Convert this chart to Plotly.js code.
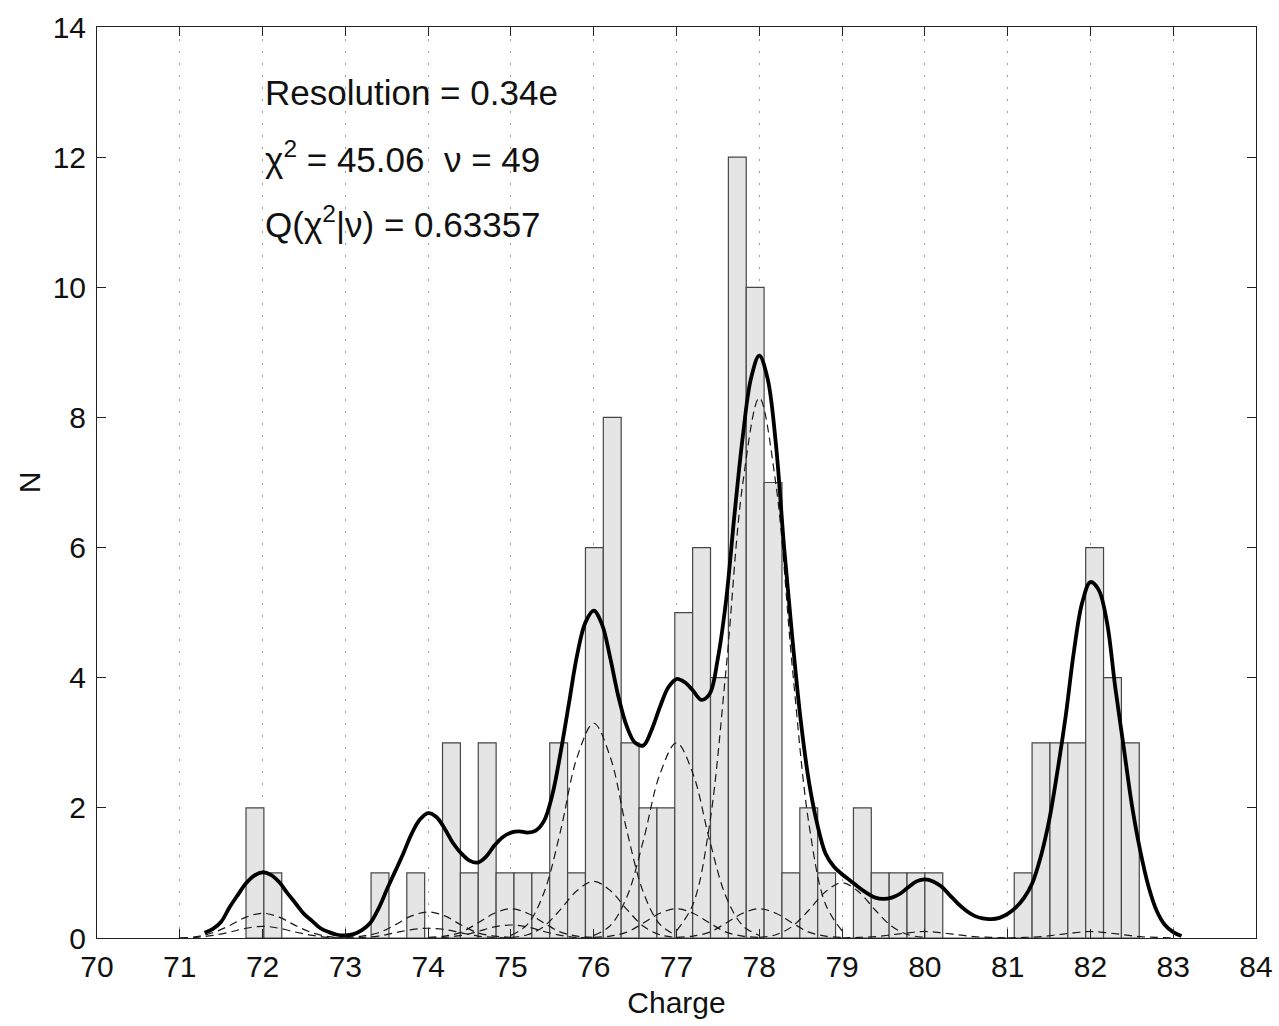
<!DOCTYPE html>
<html>
<head>
<meta charset="utf-8">
<script src="https://cdn.plot.ly/plotly-3.0.1.min.js"></script>
<style>html,body{margin:0;padding:0;background:#fff;}#chart{width:1279px;height:1026px;}</style>
</head>
<body>
<div id="chart"></div>
<script>
// ---- Histogram (50 bins) ----
const binStart = 71.80;
const binWidth = 0.2158;
const counts = [2,1,0,0,0,0,0,1,0,1,
                0,3,1,3,1,1,1,3,1,6,
                8,3,2,2,5,6,4,12,10,7,
                1,2,1,0,2,1,1,1,1,0,
                0,0,0,1,3,3,3,6,4,3];

// ---- Total fit curve ----
const fitX = [71.3,71.4,71.5,71.6,71.7,71.8,71.9,72.0,72.1,72.2,72.3,72.4,72.5,72.6,72.7,72.8,72.9,73.0,
  73.1,73.2,73.3,73.4,73.5,73.6,73.7,73.8,73.9,74.0,74.1,74.2,74.3,74.4,74.5,74.6,74.7,74.8,74.9,75.0,
  75.1,75.2,75.3,75.4,75.5,75.6,75.7,75.8,75.9,76.0,76.1,76.2,76.3,76.4,76.5,76.6,76.7,76.8,76.9,77.0,
  77.1,77.2,77.3,77.4,77.5,77.6,77.7,77.8,77.9,78.0,78.1,78.2,78.3,78.4,78.5,78.6,78.7,78.8,78.9,79.0,
  79.1,79.2,79.3,79.4,79.5,79.6,79.7,79.8,79.9,80.0,80.1,80.2,80.3,80.4,80.5,80.6,80.7,80.8,80.9,81.0,
  81.1,81.2,81.3,81.4,81.5,81.6,81.7,81.8,81.9,82.0,82.1,82.2,82.3,82.4,82.5,82.6,82.7,82.8,82.9,83.0,83.1];
const fitY = [0.08,0.14,0.25,0.47,0.66,0.84,0.96,1.01,0.97,0.86,0.69,0.53,0.37,0.26,0.15,0.09,0.05,0.04,
  0.06,0.12,0.23,0.45,0.74,1.02,1.30,1.60,1.82,1.92,1.86,1.68,1.46,1.30,1.19,1.16,1.25,1.42,1.55,1.62,
  1.64,1.62,1.65,1.80,2.20,2.85,3.60,4.35,4.85,5.03,4.82,4.30,3.70,3.25,3.00,2.96,3.20,3.55,3.85,3.98,
  3.93,3.80,3.66,3.75,4.30,5.20,6.50,7.70,8.60,8.95,8.60,7.60,6.00,4.60,3.35,2.40,1.75,1.30,1.10,0.98,
  0.88,0.78,0.69,0.62,0.60,0.62,0.68,0.78,0.87,0.90,0.87,0.79,0.66,0.53,0.42,0.34,0.30,0.29,0.31,0.37,
  0.47,0.62,0.85,1.25,1.80,2.55,3.40,4.40,5.15,5.47,5.35,4.85,3.85,2.95,2.05,1.35,0.80,0.42,0.20,0.09,0.03];

// ---- Individual fit components (dashed), sampled at centre + offset ----
const compOffsets = [-1.0,-0.8,-0.6,-0.4,-0.2,0,0.2,0.4,0.6,0.8,1.0];
const comp76Main = [0.04,0.21,0.70,1.65,2.78,3.30,2.78,1.65,0.70,0.21,0.04];
const comp77Main = [0.04,0.19,0.63,1.50,2.52,3.00,2.52,1.50,0.63,0.19,0.04];
const comp78Main = [0.11,0.52,1.75,4.15,6.98,8.30,6.98,4.15,1.75,0.52,0.11];
const comp76Minor = [0.01,0.05,0.18,0.44,0.73,0.87,0.73,0.44,0.18,0.05,0.01];
const comp79Minor = [0.01,0.05,0.18,0.43,0.71,0.85,0.71,0.43,0.18,0.05,0.01];
const comp72a = [0.00,0.02,0.08,0.19,0.32,0.38,0.32,0.19,0.08,0.02,0.00];
const comp72b = [0.00,0.01,0.04,0.09,0.15,0.18,0.15,0.09,0.04,0.01,0.00];
const comp74a = [0.01,0.03,0.08,0.20,0.34,0.40,0.34,0.20,0.08,0.03,0.01];
const comp74b = [0.00,0.01,0.03,0.08,0.13,0.15,0.13,0.08,0.03,0.01,0.00];
const comp75a = [0.01,0.03,0.09,0.23,0.38,0.45,0.38,0.23,0.09,0.03,0.01];
const comp75b = [0.00,0.01,0.04,0.10,0.17,0.20,0.17,0.10,0.04,0.01,0.00];
const comp77b = [0.01,0.03,0.09,0.23,0.38,0.45,0.38,0.23,0.09,0.03,0.01];
const comp78b = [0.01,0.03,0.09,0.23,0.38,0.45,0.38,0.23,0.09,0.03,0.01];
const comp80 = [0.00,0.01,0.02,0.05,0.08,0.10,0.08,0.05,0.02,0.01,0.00];
const comp82 = [0.00,0.01,0.02,0.05,0.08,0.10,0.08,0.05,0.02,0.01,0.00];
const components = [
  {c:76, y:comp76Main},{c:77, y:comp77Main},{c:78, y:comp78Main},
  {c:76, y:comp76Minor},{c:79, y:comp79Minor},
  {c:72, y:comp72a},{c:72, y:comp72b},{c:74, y:comp74a},{c:74, y:comp74b},
  {c:75, y:comp75a},{c:75, y:comp75b},{c:77, y:comp77b},{c:78, y:comp78b},
  {c:80, y:comp80},{c:82, y:comp82}
];

// ---- Text ----
const infoLines = [
  {x:72, y:13, text:'Resolution = 0.34e'},
  {x:72, y:12, text:'\u03c7<sup>2</sup> = 45.06\u00a0\u00a0\u03bd = 49'},
  {x:72, y:11, text:'Q(\u03c7<sup>2</sup>|\u03bd) = 0.63357'}
];
const xTicks = [70,71,72,73,74,75,76,77,78,79,80,81,82,83,84];
const yTicks = [0,2,4,6,8,10,12,14];

const FONT = 'Liberation Sans, Arial, Helvetica, sans-serif';

const binCenters = counts.map((_, i) => binStart + (i + 0.5) * binWidth);

const traces = [];
traces.push({
  type:'bar', x:binCenters, y:counts, width:binWidth,
  marker:{color:'rgb(229,229,229)', line:{color:'rgb(70,70,70)', width:1.2}},
  hoverinfo:'skip', showlegend:false
});
components.forEach(cp => {
  traces.push({
    type:'scatter', mode:'lines',
    x: compOffsets.map(o => cp.c + o), y: cp.y,
    line:{color:'rgb(25,25,25)', width:1.2, dash:'8px,5px', shape:'spline'},
    hoverinfo:'skip', showlegend:false
  });
});
traces.push({
  type:'scatter', mode:'lines', x:fitX, y:fitY,
  line:{color:'#000', width:3.8, shape:'spline'},
  hoverinfo:'skip', showlegend:false
});

const axisCommon = {
  ticks:'inside', ticklen:9, tickwidth:1, tickcolor:'#222',
  showline:true, linecolor:'#222', linewidth:1, mirror:'ticks',
  zeroline:false, tickfont:{family:FONT, size:30, color:'#111'}
};

const layout = {
  width:1279, height:1026,
  margin:{l:97, r:23, t:27, b:88},
  paper_bgcolor:'#fff', plot_bgcolor:'#fff',
  bargap:0,
  showlegend:false,
  font:{family:FONT, color:'#111'},
  xaxis: Object.assign({}, axisCommon, {
    range:[70,84], tickmode:'array', tickvals:xTicks, ticktext:xTicks.map(String),
    showgrid:true, gridcolor:'#9a9a9a', gridwidth:1, griddash:'2px,10px',
    ticklabelstandoff:2,
    title:{text:'Charge', font:{family:FONT, size:30, color:'#111'}, standoff:9}
  }),
  yaxis: Object.assign({}, axisCommon, {
    range:[0,14], tickmode:'array', tickvals:yTicks, ticktext:yTicks.map(String),
    showgrid:false, ticklabelstandoff:4,
    title:{text:'N', font:{family:FONT, size:30, color:'#111'}, standoff:3}
  }),
  annotations: infoLines.map(l => ({
    x:l.x, y:l.y, xref:'x', yref:'y', text:l.text, showarrow:false,
    xanchor:'left', yanchor:'middle', font:{family:FONT, size:35, color:'#111'}
  }))
};

Plotly.newPlot('chart', traces, layout, {staticPlot:true, displayModeBar:false});
</script>
</body>
</html>
